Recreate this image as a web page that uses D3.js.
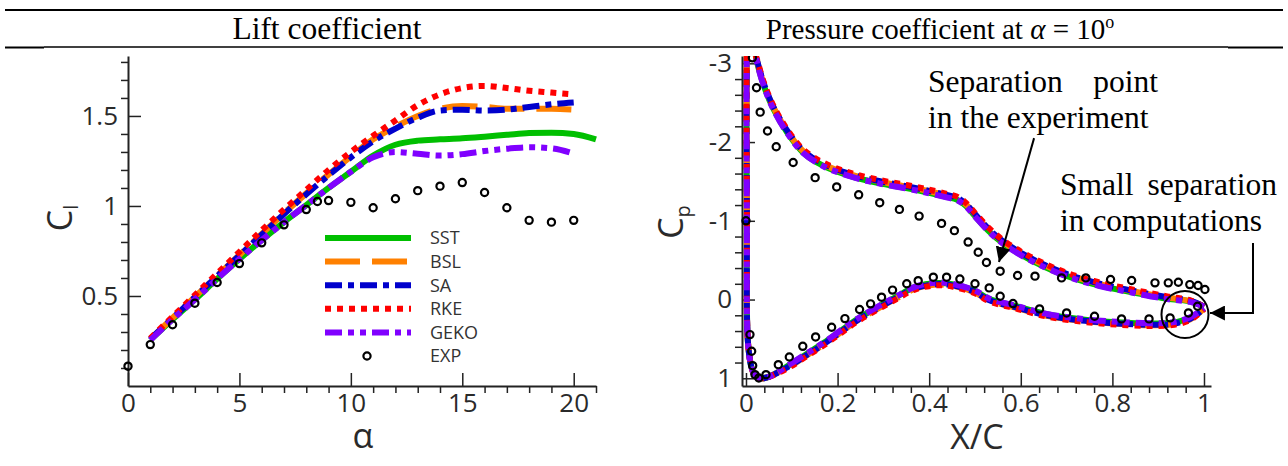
<!DOCTYPE html>
<html>
<head>
<meta charset="utf-8">
<script src="https://cdn.jsdelivr.net/npm/d3@7"></script>
<style>
  html, body { margin: 0; padding: 0; background: #fff; }
  svg { display: block; }
</style>
</head>
<body>
<svg id="fig" width="1288" height="466"></svg>
<script>
// ---------- Lift coefficient vs angle of attack ----------
const alphaExp = [0, 1, 2, 3, 4, 5, 6, 7, 8, 8.5, 9, 10, 11, 12, 13, 14, 15, 16, 17, 18, 19, 20];
const clExp    = [0.11, 0.23, 0.34, 0.46, 0.575, 0.68, 0.795, 0.895, 0.98, 1.025, 1.03, 1.02, 0.99, 1.04, 1.085, 1.11, 1.13, 1.075, 0.99, 0.92, 0.91, 0.92];

const alphaCfd = [1, 2, 3, 4, 5, 6, 7, 8, 9, 10, 11, 12, 13, 14, 15, 16, 17, 18, 19, 20];
const alphaSst = [1, 2, 3, 4, 5, 6, 7, 8, 9, 10, 11, 12, 13, 14, 15, 16, 17, 18, 19, 20, 21];
const clSst  = [0.255, 0.37, 0.48, 0.595, 0.705, 0.81, 0.91, 1.005, 1.10, 1.19, 1.28, 1.34, 1.363, 1.37, 1.376, 1.385, 1.395, 1.405, 1.407, 1.40, 1.37];
const clBsl  = [0.26, 0.378, 0.495, 0.612, 0.728, 0.845, 0.96, 1.07, 1.175, 1.275, 1.37, 1.44, 1.50, 1.54, 1.555, 1.55, 1.54, 1.54, 1.54, 1.535];
const clSa   = [0.26, 0.377, 0.493, 0.61, 0.725, 0.84, 0.955, 1.065, 1.17, 1.27, 1.36, 1.43, 1.49, 1.53, 1.535, 1.53, 1.535, 1.55, 1.565, 1.575];
const clRke  = [0.265, 0.385, 0.505, 0.625, 0.745, 0.865, 0.98, 1.09, 1.20, 1.30, 1.39, 1.475, 1.56, 1.62, 1.655, 1.667, 1.655, 1.64, 1.63, 1.62];
const clGeko = [0.255, 0.37, 0.48, 0.595, 0.705, 0.81, 0.91, 1.005, 1.10, 1.19, 1.27, 1.30, 1.29, 1.28, 1.288, 1.305, 1.318, 1.326, 1.32, 1.29];

// ---------- Pressure coefficient at alpha = 10 deg ----------
// Surface loop: upper surface from trailing edge to leading edge, then lower surface back to trailing edge
const xcCfd = [1.000, 0.970, 0.920, 0.850, 0.770, 0.700, 0.650, 0.600, 0.560, 0.530, 0.500, 0.480, 0.460, 0.440,
               0.400, 0.350, 0.290, 0.230, 0.170, 0.125, 0.090, 0.060, 0.040, 0.027, 0.020, 0.008, 0.002, 0.002,
               0.003, 0.007, 0.012, 0.020, 0.032, 0.045, 0.060, 0.095, 0.130, 0.170, 0.205, 0.240, 0.285, 0.330,
               0.370, 0.415, 0.450, 0.500, 0.530, 0.590, 0.660, 0.740, 0.810, 0.880, 0.930, 0.970, 1.000];
const cpSst  = [0.09, 0.025, -0.01, -0.085, -0.18, -0.30, -0.42, -0.57, -0.72, -0.87, -1.06, -1.19, -1.27, -1.30,
                -1.355, -1.415, -1.48, -1.565, -1.695, -1.865, -2.12, -2.42, -2.70, -2.95, -3.15, -4.20, -3.20, -1.00,
                0.40, 0.70, 0.86, 0.97, 1.00, 0.99, 0.955, 0.83, 0.70, 0.55, 0.405, 0.26, 0.105, -0.04,
                -0.16, -0.21, -0.195, -0.11, -0.01, 0.085, 0.19, 0.255, 0.288, 0.305, 0.295, 0.23, 0.11];
const cpBsl  = [0.09, 0.02, -0.025, -0.10, -0.20, -0.32, -0.44, -0.59, -0.74, -0.89, -1.08, -1.21, -1.29, -1.32,
                -1.375, -1.435, -1.50, -1.585, -1.715, -1.885, -2.14, -2.44, -2.72, -2.97, -3.15, -4.20, -3.20, -1.00,
                0.40, 0.70, 0.86, 0.97, 1.00, 0.99, 0.955, 0.85, 0.72, 0.57, 0.425, 0.28, 0.125, -0.02,
                -0.14, -0.19, -0.175, -0.09, 0.01, 0.105, 0.21, 0.275, 0.308, 0.325, 0.315, 0.25, 0.115];
const cpSa   = [0.09, 0.015, -0.03, -0.105, -0.205, -0.325, -0.445, -0.595, -0.745, -0.895, -1.085, -1.215, -1.295, -1.325,
                -1.38, -1.44, -1.505, -1.59, -1.72, -1.89, -2.145, -2.445, -2.725, -2.975, -3.15, -4.20, -3.20, -1.00,
                0.40, 0.70, 0.86, 0.97, 1.00, 0.99, 0.955, 0.845, 0.715, 0.565, 0.42, 0.275, 0.12, -0.025,
                -0.145, -0.195, -0.18, -0.095, 0.005, 0.10, 0.205, 0.27, 0.303, 0.32, 0.31, 0.245, 0.115];
const cpRke  = [0.09, 0.01, -0.04, -0.12, -0.22, -0.34, -0.46, -0.61, -0.76, -0.91, -1.10, -1.23, -1.31, -1.34,
                -1.395, -1.455, -1.52, -1.605, -1.735, -1.905, -2.16, -2.46, -2.74, -2.99, -3.15, -4.20, -3.20, -1.00,
                0.40, 0.70, 0.86, 0.97, 1.00, 0.99, 0.96, 0.86, 0.73, 0.58, 0.435, 0.29, 0.135, -0.01,
                -0.13, -0.18, -0.165, -0.08, 0.02, 0.115, 0.22, 0.285, 0.318, 0.335, 0.325, 0.26, 0.12];
const cpGeko = [0.09, 0.03, -0.005, -0.08, -0.175, -0.295, -0.415, -0.565, -0.715, -0.865, -1.055, -1.185, -1.265, -1.295,
                -1.35, -1.41, -1.475, -1.56, -1.69, -1.86, -2.115, -2.415, -2.695, -2.945, -3.15, -4.20, -3.20, -1.00,
                0.40, 0.70, 0.86, 0.97, 1.00, 0.99, 0.955, 0.825, 0.695, 0.545, 0.40, 0.255, 0.10, -0.045,
                -0.165, -0.215, -0.20, -0.115, -0.015, 0.08, 0.185, 0.25, 0.283, 0.30, 0.29, 0.225, 0.11];

const xcExpUpper = [0.0, 0.014, 0.023, 0.031, 0.047, 0.066, 0.103, 0.151, 0.198, 0.246, 0.292, 0.335, 0.378, 0.427, 0.455,
                    0.485, 0.507, 0.525, 0.555, 0.593, 0.631, 0.689, 0.742, 0.796, 0.842, 0.893, 0.922, 0.944, 0.969, 0.987, 1.002];
const cpExpUpper = [-1.0, -3.07, -2.69, -2.38, -2.14, -1.94, -1.74, -1.548, -1.43, -1.33, -1.23, -1.145, -1.06, -0.967, -0.875,
                    -0.73, -0.60, -0.47, -0.36, -0.305, -0.297, -0.275, -0.275, -0.254, -0.242, -0.212, -0.212, -0.22, -0.19, -0.178, -0.127];
const xcExpLower = [0.0087, 0.0124, 0.0146, 0.0197, 0.028, 0.0437, 0.0706, 0.0946, 0.124, 0.152, 0.187, 0.216, 0.248, 0.272,
                    0.296, 0.32, 0.351, 0.376, 0.409, 0.438, 0.467, 0.5, 0.531, 0.555, 0.583, 0.641, 0.70, 0.761, 0.82, 0.88,
                    0.926, 0.966, 0.986];
const cpExpLower = [0.445, 0.657, 0.84, 0.954, 0.997, 0.954, 0.827, 0.73, 0.594, 0.475, 0.352, 0.242, 0.127, 0.055,
                    -0.03, -0.12, -0.2, -0.24, -0.284, -0.284, -0.26, -0.2, -0.148, -0.042, 0.051, 0.119, 0.17, 0.212, 0.246, 0.246,
                    0.233, 0.17, 0.085];

// ---------- tick values ----------
const alphaTicks = [0, 5, 10, 15, 20];
const alphaMinor = [1, 2, 3, 4, 6, 7, 8, 9, 11, 12, 13, 14, 16, 17, 18, 19, 21];
const clTicks = [0.5, 1, 1.5];
const clMinor = [0.1, 0.2, 0.3, 0.4, 0.6, 0.7, 0.8, 0.9, 1.1, 1.2, 1.3, 1.4, 1.6, 1.7, 1.8];
const xcTicks = [0, 0.2, 0.4, 0.6, 0.8, 1];
const xcMinor = [0.04, 0.08, 0.12, 0.16, 0.24, 0.28, 0.32, 0.36, 0.44, 0.48, 0.52, 0.56, 0.64, 0.68, 0.72, 0.76, 0.84, 0.88, 0.92, 0.96];
const cpTicks = [-3, -2, -1, 0, 1];
const cpMinor = [-2.8, -2.6, -2.4, -2.2, -1.8, -1.6, -1.4, -1.2, -0.8, -0.6, -0.4, -0.2, 0.2, 0.4, 0.6, 0.8];

// ---------- series styling ----------
const models = ['SST', 'BSL', 'SA', 'RKE', 'GEKO'];
const modelColor = { SST: '#00bf00', BSL: '#ff8000', SA: '#0000cc', RKE: '#ff0000', GEKO: '#8000ff' };
const modelDash = { SST: null, BSL: '35,12', SA: '17,6,6,6', RKE: '6,6', GEKO: '17,6,6,6,6,6' };

const liftSeries = {
  SST: d3.zip(alphaSst, clSst),
  BSL: d3.zip(alphaCfd, clBsl),
  SA: d3.zip(alphaCfd, clSa),
  RKE: d3.zip(alphaCfd, clRke),
  GEKO: d3.zip(alphaCfd, clGeko)
};
const cpSeries = {
  SST: d3.zip(xcCfd, cpSst),
  BSL: d3.zip(xcCfd, cpBsl),
  SA: d3.zip(xcCfd, cpSa),
  RKE: d3.zip(xcCfd, cpRke),
  GEKO: d3.zip(xcCfd, cpGeko)
};

const ink = '#222';
const sans = '"Open Sans", "Noto Sans", "DejaVu Sans", sans-serif';
const serif = '"Liberation Serif", "Times New Roman", serif';
const serifSize = '31.5px';

const svg = d3.select('#fig');

// ---------- table-style header ----------
svg.append('line').attr('x1', 5).attr('x2', 1283).attr('y1', 10).attr('y2', 10)
  .attr('stroke', '#000').attr('stroke-width', 2);
svg.append('line').attr('x1', 44).attr('x2', 1228).attr('y1', 47).attr('y2', 47)
  .attr('stroke', '#000').attr('stroke-width', 1.5);
svg.append('line').attr('x1', 5).attr('x2', 44).attr('y1', 47.5).attr('y2', 47.5)
  .attr('stroke', '#000').attr('stroke-width', 2.2);
svg.append('line').attr('x1', 1228).attr('x2', 1283).attr('y1', 47.5).attr('y2', 47.5)
  .attr('stroke', '#000').attr('stroke-width', 2.2);

svg.append('text').attr('x', 327).attr('y', 38.5).attr('text-anchor', 'middle')
  .style('font-family', serif).style('font-size', serifSize).attr('fill', '#000')
  .text('Lift coefficient');

const t2 = svg.append('text').attr('x', 940).attr('y', 38.5).attr('text-anchor', 'middle')
  .style('font-family', serif).style('font-size', '29px').attr('fill', '#000');
t2.append('tspan').text('Pressure coefficient at ');
t2.append('tspan').style('font-style', 'italic').text('α');
t2.append('tspan').text(' = 10');
t2.append('tspan').attr('dy', -11).style('font-size', '18px').text('o');

// ---------- axis helper ----------
function styleAxis(g) {
  g.select('.domain').attr('stroke', ink).attr('stroke-width', 2);
  g.selectAll('.tick line').attr('stroke', ink).attr('stroke-width', 1.5);
  g.selectAll('.tick text').attr('fill', '#2a2a2a')
    .style('font-family', sans).style('font-size', '26px');
}

function drawAxes(g, x, y, opt) {
  const y0 = y.range()[0];
  const x0 = x.range()[0];
  // minor ticks point outward
  g.append('g').attr('transform', `translate(0,${y0})`)
    .call(d3.axisBottom(x).tickValues(opt.xMinor).tickSize(7).tickSizeOuter(0).tickFormat(''))
    .call(s => { s.select('.domain').remove(); styleAxis(s); });
  g.append('g').attr('transform', `translate(${x0},0)`)
    .call(d3.axisLeft(y).tickValues(opt.yMinor).tickSize(7).tickSizeOuter(0).tickFormat(''))
    .call(s => { s.select('.domain').remove(); styleAxis(s); });
  // major ticks point inward
  g.append('g').attr('transform', `translate(0,${y0})`)
    .call(d3.axisBottom(x).tickValues(opt.xMajor).tickSize(-13).tickSizeOuter(0).tickPadding(8).tickFormat(opt.xFmt))
    .call(styleAxis);
  g.append('g').attr('transform', `translate(${x0},0)`)
    .call(d3.axisLeft(y).tickValues(opt.yMajor).tickSize(-13).tickSizeOuter(0).tickPadding(10).tickFormat(opt.yFmt))
    .call(styleAxis);
}

const plain = d => String(d);

// ================= Left panel: lift =================
const xL = d3.scaleLinear().domain([0, 21]).range([128, 596]);
const yL = d3.scaleLinear().domain([0, 1.833]).range([386, 56]);
const gL = svg.append('g');

drawAxes(gL, xL, yL, { xMajor: alphaTicks, xMinor: alphaMinor, yMajor: clTicks, yMinor: clMinor, xFmt: plain, yFmt: plain });

const liftLine = d3.line().x(d => xL(d[0])).y(d => yL(d[1])).curve(d3.curveMonotoneX);
models.forEach(m => {
  gL.append('path').datum(liftSeries[m])
    .attr('d', liftLine).attr('fill', 'none')
    .attr('stroke', modelColor[m]).attr('stroke-width', 6)
    .attr('stroke-dasharray', modelDash[m]).attr('stroke-linecap', 'butt');
});
gL.selectAll('circle.exp').data(d3.zip(alphaExp, clExp)).join('circle')
  .attr('class', 'exp')
  .attr('cx', d => xL(d[0])).attr('cy', d => yL(d[1])).attr('r', 3.6)
  .attr('fill', 'none').attr('stroke', '#000').attr('stroke-width', 2.2);

// axis titles
gL.append('text').attr('x', 363).attr('y', 448).attr('text-anchor', 'middle')
  .style('font-family', sans).style('font-size', '34px').attr('fill', '#2a2a2a').text('α');
const clLab = gL.append('text').attr('transform', 'translate(72,218) rotate(-90)').attr('text-anchor', 'middle')
  .style('font-family', sans).style('font-size', '34px').attr('fill', '#2a2a2a');
clLab.append('tspan').text('C');
clLab.append('tspan').attr('dy', 6).style('font-size', '20px').text('l');

// legend
const legendRows = ['SST', 'BSL', 'SA', 'RKE', 'GEKO', 'EXP'];
const legY = d3.scalePoint().domain(legendRows).range([238, 356]);
const leg = gL.append('g');
models.forEach(m => {
  leg.append('line').attr('x1', 325).attr('x2', 411).attr('y1', legY(m)).attr('y2', legY(m))
    .attr('stroke', modelColor[m]).attr('stroke-width', 6).attr('stroke-dasharray', modelDash[m]);
});
leg.append('circle').attr('cx', 367).attr('cy', legY('EXP')).attr('r', 3.6)
  .attr('fill', 'none').attr('stroke', '#000').attr('stroke-width', 2.2);
leg.selectAll('text').data(legendRows).join('text')
  .attr('x', 430).attr('y', d => legY(d)).attr('dy', '0.36em')
  .style('font-family', sans).style('font-size', '18px').attr('fill', '#333').text(d => d);

// ================= Right panel: pressure coefficient =================
const xR = d3.scaleLinear().domain([-0.0087, 1.0153]).range([742, 1211]);
const yR = d3.scaleLinear().domain([1.098, -3.093]).range([386, 56]);
const gR = svg.append('g');

svg.append('defs').append('clipPath').attr('id', 'cp-clip')
  .append('rect').attr('x', 738).attr('y', 56).attr('width', 480).attr('height', 340);

drawAxes(gR, xR, yR, { xMajor: xcTicks, xMinor: xcMinor, yMajor: cpTicks, yMinor: cpMinor, xFmt: plain, yFmt: plain });

const cpLine = d3.line().x(d => xR(d[0])).y(d => yR(d[1])).curve(d3.curveCatmullRom.alpha(0.5));
const plotR = gR.append('g').attr('clip-path', 'url(#cp-clip)');
models.forEach(m => {
  plotR.append('path').datum(cpSeries[m])
    .attr('d', cpLine).attr('fill', 'none')
    .attr('stroke', modelColor[m]).attr('stroke-width', 6)
    .attr('stroke-dasharray', modelDash[m]).attr('stroke-linecap', 'butt');
});
const expCp = d3.zip(xcExpUpper, cpExpUpper).concat(d3.zip(xcExpLower, cpExpLower));
plotR.selectAll('circle.exp').data(expCp).join('circle')
  .attr('class', 'exp')
  .attr('cx', d => xR(d[0])).attr('cy', d => yR(d[1])).attr('r', 3.6)
  .attr('fill', 'none').attr('stroke', '#000').attr('stroke-width', 2.2);

gR.append('text').attr('x', 977).attr('y', 449).attr('text-anchor', 'middle')
  .style('font-family', sans).style('font-size', '34px').attr('fill', '#2a2a2a').text('X/C');
const cpLab = gR.append('text').attr('transform', 'translate(683,222) rotate(-90)').attr('text-anchor', 'middle')
  .style('font-family', sans).style('font-size', '34px').attr('fill', '#2a2a2a');
cpLab.append('tspan').text('C');
cpLab.append('tspan').attr('dy', 7).style('font-size', '20px').text('p');

// annotations
svg.append('defs').append('marker').attr('id', 'arrow-head')
  .attr('viewBox', '0 0 10 10').attr('refX', 10).attr('refY', 5)
  .attr('markerWidth', 7.5).attr('markerHeight', 7.5).attr('markerUnits', 'strokeWidth')
  .attr('orient', 'auto')
  .append('path').attr('d', 'M0,0 L10,5 L0,10 z').attr('fill', '#000');

const note = gR.append('g').style('font-family', serif).style('font-size', serifSize).attr('fill', '#000');
note.append('text').attr('x', 928).attr('y', 92).text('Separation');
note.append('text').attr('x', 1158).attr('y', 92).attr('text-anchor', 'end').text('point');
note.append('text').attr('x', 928).attr('y', 128).text('in the experiment');
note.append('text').attr('x', 1060).attr('y', 195).text('Small');
note.append('text').attr('x', 1277).attr('y', 195).attr('text-anchor', 'end').text('separation');
note.append('text').attr('x', 1060).attr('y', 231).text('in computations');

// arrow to the experimental separation point
gR.append('line')
  .attr('x1', xR(0.629)).attr('y1', yR(-2.05))
  .attr('x2', xR(0.5524)).attr('y2', yR(-0.476))
  .attr('stroke', '#000').attr('stroke-width', 2).attr('marker-end', 'url(#arrow-head)');

// elbow arrow to the trailing-edge separation bubble
gR.append('path')
  .attr('d', d3.line()([[xR(1.107), yR(-0.717)], [xR(1.107), yR(0.171)], [xR(1.013), yR(0.171)]]))
  .attr('fill', 'none').attr('stroke', '#000').attr('stroke-width', 2).attr('marker-end', 'url(#arrow-head)');

gR.append('circle').attr('cx', xR(0.9585)).attr('cy', yR(0.19)).attr('r', 23.5)
  .attr('fill', 'none').attr('stroke', '#000').attr('stroke-width', 2);
</script>
</body>
</html>
